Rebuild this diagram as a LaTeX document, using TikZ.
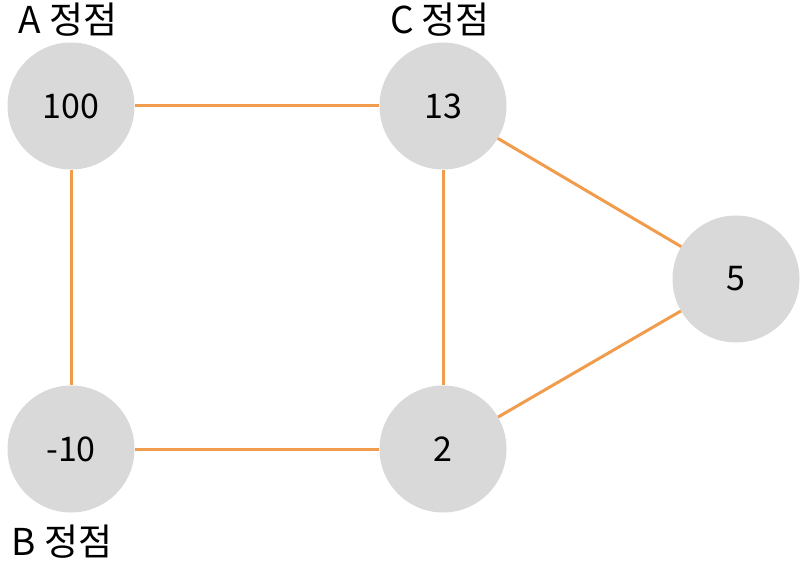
\documentclass[tikz,border=0pt]{standalone}
\usepackage{fontspec}
\setmainfont{Noto Sans CJK KR}
\usetikzlibrary{positioning}
\definecolor{edgeorange}{HTML}{F09C4C}
\definecolor{vertgray}{HTML}{D9D9D9}
\tikzset{
	vert/.style={circle, fill=vertgray, minimum size=127pt, inner sep=0pt, font=\fontsize{34}{38}\selectfont},
	vlabel/.style={font=\fontsize{37}{40}\selectfont, inner sep=0pt},
	link/.style={line width=3pt, color=edgeorange}
}
\begin{document}
\begin{tikzpicture}[x=1pt, y=-1pt]
		\useasboundingbox (0, 0) rectangle (800, 561);
		
		% vertices
		\node[vert] (a) at (71, 106) {100};
		\node[vert] (c) at (443, 106) {13};
		\node[vert] (e) at (736, 279) {5};
		\node[vert] (b) at (71, 449) {-10};
		\node[vert] (d) at (443, 449) {2};
		
		% labels
		\node[vlabel] (alab) at (68, 20) {A 정점};
		\node[vlabel] (clab) at (440, 20) {C 정점};
		\node[vlabel] (blab) at (62, 542) {B 정점};
		
		% edges
		\draw[link] (a) -- (c);
		\draw[link] (a) -- (b);
		\draw[link] (b) -- (d);
		\draw[link] (c) -- (d);
		\draw[link] (c) -- (e);
		\draw[link] (d) -- (e);
		
	\end{tikzpicture}
\end{document}
